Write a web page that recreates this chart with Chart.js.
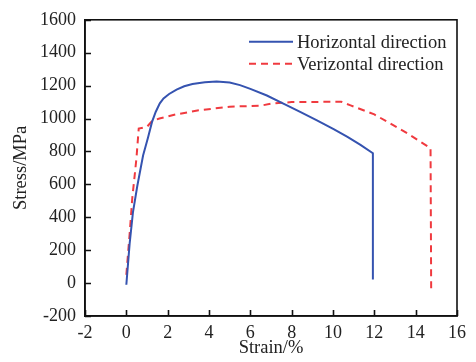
<!DOCTYPE html>
<html>
<head>
<meta charset="utf-8">
<script src="https://cdn.jsdelivr.net/npm/chart.js@4/dist/chart.umd.min.js"></script>
<style>
html,body{margin:0;padding:0;background:#fff;}
#wrap{width:476px;height:362px;}
</style>
</head>
<body>
<div id="wrap"><canvas id="c" width="476" height="362"></canvas></div>
<script>
const seriesNames = ["Horizontal direction", "Verizontal direction"];
const horizStrain = [0, 0.16, 0.32, 0.53, 0.81, 1.05, 1.24, 1.42, 1.62, 1.8, 2.07, 2.43, 2.8, 3.2, 3.8, 4.37, 5.0, 5.5, 6.0, 6.8, 7.6, 8.41, 9.2, 10.03, 10.7, 11.33, 11.93, 11.93];
const horizStress = [-10, 240, 430, 590, 775, 885, 978, 1040, 1092, 1122, 1149, 1176, 1196, 1210, 1221, 1225, 1219, 1203, 1180, 1140, 1090, 1040, 990, 935, 888, 840, 789, 22];
const vertStrain = [0, 0.16, 0.29, 0.40, 0.49, 0.6, 1.0, 1.25, 1.6, 2.4, 3.5, 5.0, 6.5, 7.0, 8.0, 10.4, 10.85, 12.0, 13.6, 14.72, 14.75];
const vertStress = [50, 300, 520, 650, 760, 939, 950, 985, 1000, 1025, 1050, 1072, 1078, 1090, 1100, 1102, 1080, 1025, 910, 820, -38];
const xTicks = [-2, 0, 2, 4, 6, 8, 10, 12, 14, 16];
const yTicks = [-200, 0, 200, 400, 600, 800, 1000, 1200, 1400, 1600];

const toPts = (xs, ys) => xs.map((x, i) => ({x: x, y: ys[i]}));
const FONT = "'Liberation Serif', 'Times New Roman', serif";

const framePlugin = {
  id: 'frame',
  afterDraw(chart) {
    const ctx = chart.ctx, a = chart.chartArea;
    const xs = chart.scales.x, ys = chart.scales.y;
    ctx.save();
    ctx.strokeStyle = '#111';
    ctx.lineWidth = 1.6;
    ctx.strokeRect(a.left, a.top, a.right - a.left, a.bottom - a.top);
    ctx.beginPath();
    xTicks.forEach(v => {
      const px = Math.round(xs.getPixelForValue(v)) + 0.5;
      ctx.moveTo(px, a.bottom); ctx.lineTo(px, a.bottom - 6);
    });
    yTicks.forEach(v => {
      const py = Math.round(ys.getPixelForValue(v)) + 0.5;
      ctx.moveTo(a.left, py); ctx.lineTo(a.left + 6, py);
    });
    ctx.stroke();
    // legend
    const ds = chart.data.datasets;
    const x0 = a.right - 208, x1 = a.right - 164, tx = a.right - 160;
    const rows = [a.top + 22, a.top + 44];
    ds.forEach((d, i) => {
      ctx.strokeStyle = d.borderColor;
      ctx.lineWidth = d.borderWidth;
      ctx.setLineDash(d.borderDash || []);
      ctx.beginPath();
      ctx.moveTo(x0, rows[i]); ctx.lineTo(x1, rows[i]);
      ctx.stroke();
      ctx.setLineDash([]);
      ctx.fillStyle = '#222';
      ctx.font = "18.5px " + FONT;
      ctx.textBaseline = 'middle';
      ctx.textAlign = 'left';
      ctx.fillText(d.label, tx, rows[i] + 1);
    });
    ctx.restore();
  }
};

new Chart(document.getElementById('c'), {
  type: 'scatter',
  data: {
    datasets: [
      {label: seriesNames[0], data: toPts(horizStrain, horizStress), showLine: true, borderColor: '#3553b0', backgroundColor: '#3553b0', borderWidth: 2, pointRadius: 0, tension: 0},
      {label: seriesNames[1], data: toPts(vertStrain, vertStress), showLine: true, borderColor: '#f03a3f', backgroundColor: '#f03a3f', borderWidth: 2, borderDash: [7, 5], pointRadius: 0, tension: 0}
    ]
  },
  options: {
    responsive: false,
    animation: false,
    layout: {padding: {top: 17, right: 19, left: 0, bottom: 0}},
    plugins: {legend: {display: false}, tooltip: {enabled: false}},
    scales: {
      x: {
        type: 'linear', min: -2, max: 16,
        afterBuildTicks: s => { s.ticks = xTicks.map(v => ({value: v})); },
        afterFit: s => { s.height = 46; },
        grid: {display: false, drawTicks: false},
        border: {display: true, color: '#111', width: 1.6},
        ticks: {padding: 6, color: '#222', font: {family: FONT, size: 18}, callback: v => String(v)},
        title: {display: true, text: 'Strain/%', color: '#222', font: {family: FONT, size: 18.5}, padding: {top: 0, bottom: 3}}
      },
      y: {
        type: 'linear', min: -200, max: 1600,
        afterBuildTicks: s => { s.ticks = yTicks.map(v => ({value: v})); },
        afterFit: s => { s.width = 85; },
        grid: {display: false, drawTicks: false},
        border: {display: true, color: '#111', width: 1.6},
        ticks: {padding: 9, color: '#222', font: {family: FONT, size: 18}, callback: v => String(v)},
        title: {display: true, text: 'Stress/MPa', color: '#222', font: {family: FONT, size: 18.5}, padding: {top: 10, bottom: 0}}
      }
    }
  },
  plugins: [framePlugin]
});
</script>
</body>
</html>
